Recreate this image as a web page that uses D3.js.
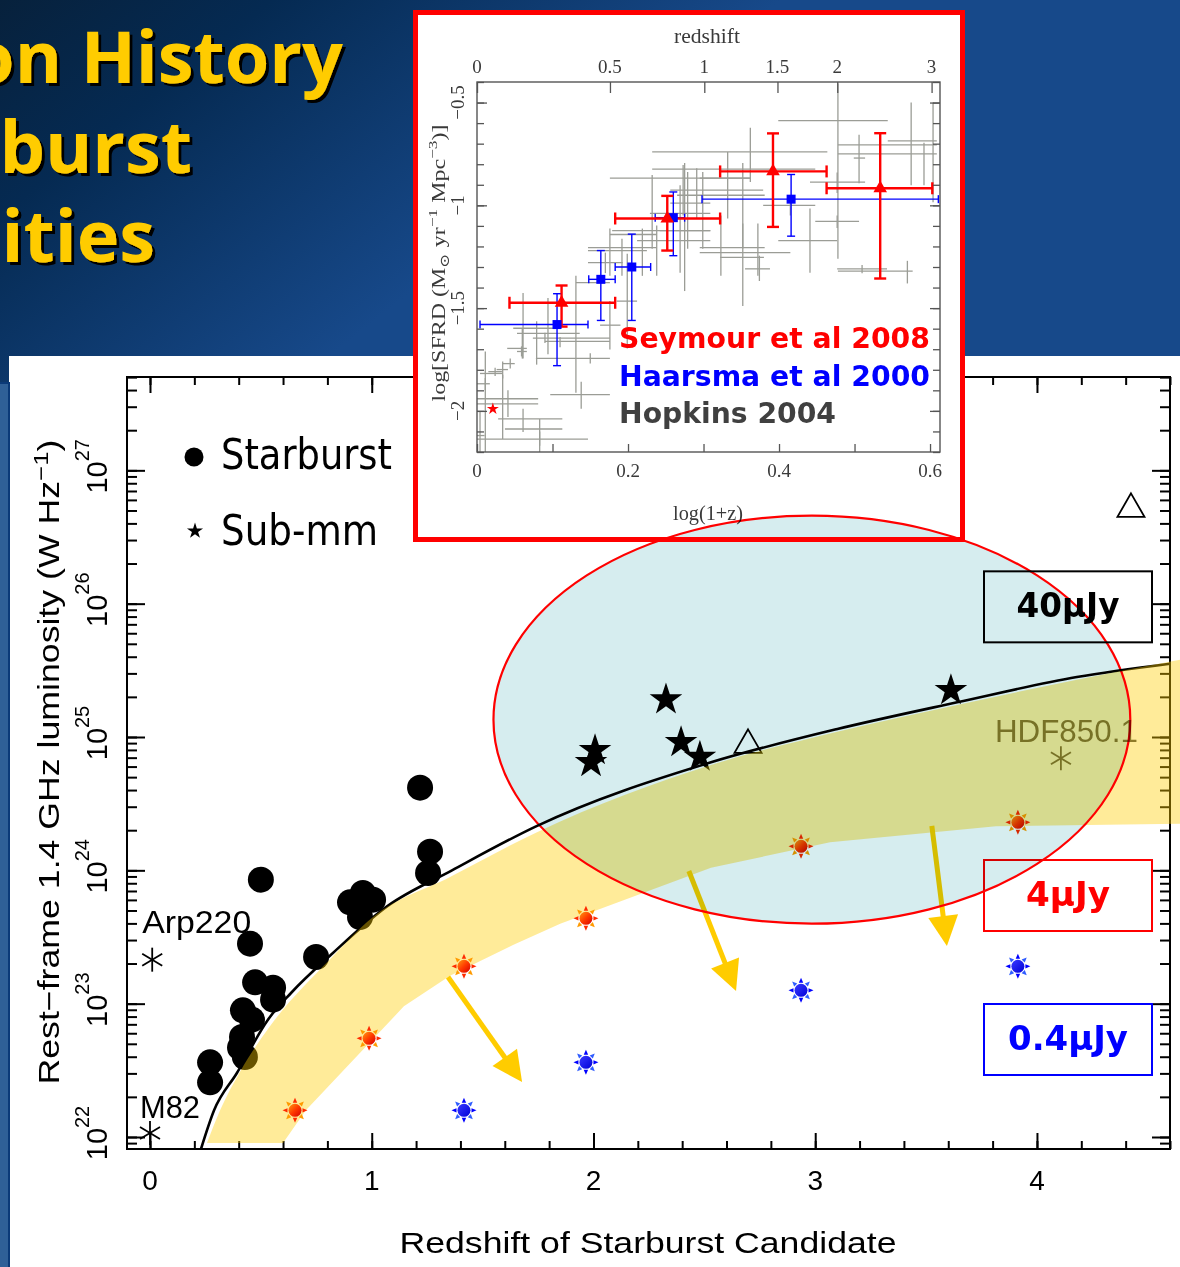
<!DOCTYPE html>
<html>
  <head>
    <meta charset="utf-8">
    <style>
      html, body {
        padding: 0;
        margin: 0;
        overflow: hidden;
        background: #0d3a78;
      }
      svg { display: block; }
      .helv { font-family: "Liberation Sans", Arial, sans-serif; }
      .serif { font-family: "Liberation Serif", "DejaVu Serif", serif; }
    </style>
  </head>
  <body>
    <div id="chart"></div>
    <script src="https://cdnjs.cloudflare.com/ajax/libs/d3/7.8.5/d3.min.js"></script>
    <script>
      (() => {
        const W = 1180
        const H = 1267

        // ---- main plot: redshift z and log10 L(1.4 GHz) [W/Hz] ----
        const starburstZ = [1.218, 1.263, 1.254, 0.50, 0.96, 0.902, 1.006, 0.947, 0.451, 0.749, 0.474, 0.555, 0.555, 0.419, 0.46, 0.415, 0.428, 0.406, 0.271, 0.271]
        const starburstL = [24.62, 24.14, 23.98, 23.93, 23.83, 23.76, 23.78, 23.65, 23.45, 23.35, 23.16, 23.12, 23.03, 22.95, 22.88, 22.75, 22.60, 22.67, 22.56, 22.41]
        const submmZ = [2.327, 2.007, 1.989, 2.395, 2.48, 3.612]
        const submmL = [25.28, 24.90, 24.81, 24.96, 24.85, 25.35]
        const triZ = [2.697, 4.424]
        const triL = [24.94, 26.71]
        const namedNames = ['Arp220', 'M82', 'HDF850.1']
        const namedZ = [0.01, 0.0, 4.108]
        const namedL = [23.33, 22.03, 24.84]

        // 40 uJy limit curve
        const curveZ = [0.23, 0.289, 0.392, 0.532, 0.636, 0.825, 1.069, 1.362, 1.741, 2.53, 3.10, 3.64, 4.18, 4.6]
        const curveL = [21.91, 22.20, 22.48, 22.88, 23.08, 23.38, 23.73, 24.00, 24.33, 24.81, 25.06, 25.26, 25.45, 25.55]

        // yellow band
        const bandUpZ = [0.257, 0.316, 0.406, 0.541, 0.81, 1.006, 1.353, 1.75, 2.53, 3.10, 3.64, 4.18, 4.65]
        const bandUpL = [21.955, 22.20, 22.49, 22.83, 23.33, 23.65, 23.95, 24.29, 24.79, 25.04, 25.24, 25.43, 25.58]
        const bandLoZ = [0.60, 0.703, 1.145, 1.353, 1.637, 1.85, 2.53, 3.067, 3.815, 4.65]
        const bandLoL = [21.955, 22.20, 22.98, 23.21, 23.44, 23.60, 24.02, 24.21, 24.33, 24.35]

        // 4 uJy and 0.4 uJy limits
        const sun4Z = [0.654, 0.988, 1.416, 1.966, 2.936, 3.914]
        const sun4L = [22.20, 22.74, 23.28, 23.64, 24.18, 24.36]
        const sun04Z = [1.416, 1.966, 2.936, 3.914]
        const sun04L = [22.20, 22.56, 23.10, 23.28]

        // arrows [z, logL] start -> tip
        const arrowFrom = [[1.344, 23.20], [2.43, 23.995], [3.526, 24.333]]
        const arrowTo = [[1.678, 22.413], [2.643, 23.095], [3.594, 23.433]]

        const fluxLabels = ['40\u03bcJy', '4\u03bcJy', '0.4\u03bcJy']
        const fluxColors = ['#000000', '#ff0000', '#0000ff']
        const fluxL = [25.98, 23.815, 22.735]

        const xTickLabels = [0, 1, 2, 3, 4]
        const yDecades = [22, 23, 24, 25, 26, 27]

        // ---- inset: log(1+z), log SFRD ----
        // rows: [x, xlo, xhi, y, ylo, yhi]
        const seymour = [
          [0.112, 0.043, 0.183, -1.474, -1.59, -1.39],
          [0.252, 0.183, 0.322, -1.064, -1.22, -0.954],
          [0.392, 0.322, 0.463, -0.835, -1.105, -0.65],
          [0.534, 0.463, 0.603, -0.917, -1.356, -0.649]
        ]
        const seymourStar = [0.021, -1.99]
        const haarsma = [
          [0.106, 0.004, 0.147, -1.58, -1.78, -1.43],
          [0.164, 0.148, 0.183, -1.36, -1.56, -1.22],
          [0.205, 0.183, 0.23, -1.30, -1.56, -1.14],
          [0.26, 0.236, 0.275, -1.06, -1.245, -0.935],
          [0.416, 0.298, 0.611, -0.97, -1.15, -0.85]
        ]
        const hopkins = [
          [0.478, 0.399, 0.544, -0.588, -1.26, -0.407],
          [0.575, 0.544, 0.609, -0.686, -0.902, -0.5],
          [0.592, 0.478, 0.609, -0.75, -0.902, -0.696],
          [0.604, 0.478, 0.609, -0.706, -0.985, -0.5],
          [0.506, 0.499, 0.514, -0.77, -0.892, -0.657],
          [0.477, 0.441, 0.514, -0.887, -0.94, -0.84],
          [0.362, 0.232, 0.464, -0.74, -0.887, -0.623],
          [0.332, 0.232, 0.448, -0.824, -1.064, -0.74],
          [0.273, 0.176, 0.362, -0.868, -1.049, -0.804],
          [0.291, 0.256, 0.379, -0.926, -1.064, -0.819],
          [0.279, 0.265, 0.381, -0.951, -1.211, -0.838],
          [0.299, 0.256, 0.309, -0.989, -1.211, -0.838],
          [0.269, 0.229, 0.309, -1.039, -1.328, -0.902],
          [0.232, 0.179, 0.309, -1.123, -1.211, -0.853],
          [0.219, 0.176, 0.238, -1.142, -1.343, -1.113],
          [0.238, 0.212, 0.309, -1.172, -1.343, -1.098],
          [0.192, 0.147, 0.238, -1.206, -1.343, -1.162],
          [0.176, 0.147, 0.225, -1.22, -1.343, -1.113],
          [0.17, 0.147, 0.193, -1.279, -1.33, -1.23],
          [0.323, 0.295, 0.381, -1.206, -1.343, -1.049],
          [0.372, 0.295, 0.415, -1.23, -1.343, -1.088],
          [0.352, 0.295, 0.362, -0.868, -1.21, -0.794],
          [0.415, 0.379, 0.448, -1.0, -1.05, -0.95],
          [0.441, 0.399, 0.477, -1.172, -1.328, -1.015],
          [0.477, 0.448, 0.506, -1.078, -1.11, -1.05],
          [0.57, 0.478, 0.577, -1.32, -1.38, -1.27],
          [0.51, 0.477, 0.543, -1.309, -1.33, -1.29],
          [0.352, 0.322, 0.38, -1.253, -1.49, -1.088],
          [0.374, 0.355, 0.388, -1.309, -1.368, -1.245],
          [0.275, 0.242, 0.309, -1.123, -1.417, -0.794],
          [0.199, 0.185, 0.212, -1.466, -1.696, -1.235],
          [0.131, 0.131, 0.176, -1.376, -1.912, -1.343],
          [0.094, 0.077, 0.176, -1.475, -1.725, -1.451],
          [0.061, 0.048, 0.11, -1.598, -1.745, -1.426],
          [0.079, 0.053, 0.136, -1.623, -1.775, -1.564],
          [0.09, 0.074, 0.176, -1.646, -1.67, -1.62],
          [0.11, 0.09, 0.176, -1.662, -1.69, -1.64],
          [0.06, 0.04, 0.066, -1.696, -1.745, -1.598],
          [0.059, 0.053, 0.066, -1.711, -1.735, -1.686],
          [0.044, 0.034, 0.05, -1.77, -1.794, -1.745],
          [0.034, 0.026, 0.041, -1.799, -1.843, -1.76],
          [0.024, 0.015, 0.033, -1.809, -1.83, -1.79],
          [0.011, 0.004, 0.034, -1.818, -2.2, -1.711],
          [0.011, 0.0, 0.017, -1.868, -1.9, -1.84],
          [0.034, 0.0, 0.081, -1.941, -2.137, -1.824],
          [0.041, 0.0, 0.081, -1.966, -2.03, -1.9],
          [0.061, 0.028, 0.113, -2.039, -2.103, -1.99],
          [0.083, 0.037, 0.113, -2.088, -2.2, -2.039],
          [0.083, 0.0, 0.147, -2.137, -2.17, -2.1],
          [0.138, 0.097, 0.176, -1.921, -1.99, -1.858],
          [0.15, 0.078, 0.176, -1.745, -1.77, -1.72],
          [0.176, 0.163, 0.19, -1.583, -1.701, -1.466],
          [0.004, 0.0, 0.01, -2.12, -2.2, -2.0]
        ]
        const insetBottomTicks = [0, 0.2, 0.4, 0.6]
        const insetTopZ = [0, 0.5, 1, 1.5, 2, 3]
        const insetTopLabels = ['0', '0.5', '1', '1.5', '2', '3']
        const insetYTicks = [-0.5, -1, -1.5, -2]
        const insetLegend = ['Seymour et al 2008', 'Haarsma et al 2000', 'Hopkins 2004']
        const insetLegendColors = ['#ff0000', '#0000ff', '#404040']

        const titleLines = ['on History', 'burst', 'ities']

        // ------------------------------------------------------------
        let svg = d3.select('#chart').append('svg')
          .attr('width', W)
          .attr('height', H)

        let defs = svg.append('defs')

        let bg = defs.append('linearGradient').attr('id', 'bg')
          .attr('gradientUnits', 'userSpaceOnUse')
          .attr('x1', 0).attr('y1', 0).attr('x2', 300).attr('y2', 380)
        bg.append('stop').attr('offset', 0).attr('stop-color', '#07213c')
        bg.append('stop').attr('offset', 0.35).attr('stop-color', '#052a52')
        bg.append('stop').attr('offset', 1).attr('stop-color', '#17498a')

        defs.append('filter').attr('id', 'shadow')
          .attr('x', '-5%').attr('y', '-10%').attr('width', '115%').attr('height', '130%')
          .append('feDropShadow')
          .attr('dx', 3).attr('dy', 3).attr('stdDeviation', 0.6)
          .attr('flood-color', '#000').attr('flood-opacity', 1)

        let sunRed = defs.append('linearGradient').attr('id', 'sunRed')
          .attr('x1', 0).attr('y1', 0).attr('x2', 1).attr('y2', 1)
        sunRed.append('stop').attr('offset', 0).attr('stop-color', '#ff9a10')
        sunRed.append('stop').attr('offset', 0.5).attr('stop-color', '#ff3a00')
        sunRed.append('stop').attr('offset', 1).attr('stop-color', '#d40000')
        let sunBlue = defs.append('linearGradient').attr('id', 'sunBlue')
          .attr('x1', 0).attr('y1', 0).attr('x2', 1).attr('y2', 1)
        sunBlue.append('stop').attr('offset', 0).attr('stop-color', '#3a3aff')
        sunBlue.append('stop').attr('offset', 1).attr('stop-color', '#0000d8')

        defs.append('clipPath').attr('id', 'insetClip')
          .append('rect').attr('x', 477).attr('y', 82).attr('width', 463).attr('height', 370)

        // slide background + title
        svg.append('rect').attr('width', W).attr('height', H).attr('fill', 'url(#bg)')

        let titleRight = [343, 192, 155]
        let titleBase = [83, 173, 262]
        titleLines.forEach((t, i) => {
          svg.append('text')
            .attr('x', titleRight[i]).attr('y', titleBase[i])
            .attr('text-anchor', 'end')
            .attr('font-family', '"Open Sans", "Noto Sans", sans-serif')
            .attr('font-weight', 700)
            .attr('font-size', 72)
            .attr('fill', '#ffcc00')
            .attr('filter', 'url(#shadow)')
            .text(t)
        })

        // white panel and left strip
        svg.append('rect').attr('x', 9).attr('y', 356).attr('width', W - 9).attr('height', H - 356).attr('fill', '#fff')
        svg.append('rect').attr('x', 0).attr('y', 383).attr('width', 8).attr('height', H - 383).attr('fill', '#2f6097')
        svg.append('path').attr('d', `M0,383H9V${H}`).attr('fill', 'none').attr('stroke', '#0b3a78').attr('stroke-width', 2)

        // ---- main plot ----
        let x = d3.scaleLinear().domain([-0.1037, 4.6]).range([127, 1170])
        let y = d3.scaleLog().domain([10 ** 21.91, 10 ** 27.7]).range([1149, 377])
        let L = v => y(10 ** v)
        let [x0, x1] = x.range()
        let [yb, yt] = y.range()

        let g = svg.append('g')

        let minorZ = d3.range(0, 24).map(i => +(i * 0.2).toFixed(1))
        let majorZ = minorZ.filter(v => Number.isInteger(v))
        let logTicks = y.ticks()
        let majorLog = logTicks.filter(t => Math.abs(Math.log10(t) - Math.round(Math.log10(t))) < 1e-6)

        function tickAxis(axis, tr, vals, size) {
          let a = g.append('g').attr('transform', tr)
            .call(axis.tickValues(vals).tickSize(size).tickSizeOuter(0).tickFormat(''))
          a.select('.domain').remove()
          a.selectAll('line').attr('stroke', '#000').attr('stroke-width', 2)
        }
        tickAxis(d3.axisBottom(x), `translate(0,${yb})`, minorZ, -8)
        tickAxis(d3.axisBottom(x), `translate(0,${yb})`, majorZ, -16)
        tickAxis(d3.axisTop(x), `translate(0,${yt})`, minorZ, -8)
        tickAxis(d3.axisTop(x), `translate(0,${yt})`, majorZ, -16)
        tickAxis(d3.axisLeft(y), `translate(${x0},0)`, logTicks, -10)
        tickAxis(d3.axisLeft(y), `translate(${x0},0)`, majorLog, -18)
        tickAxis(d3.axisRight(y), `translate(${x1},0)`, logTicks, -10)
        tickAxis(d3.axisRight(y), `translate(${x1},0)`, majorLog, -18)

        g.append('rect')
          .attr('x', x0).attr('y', yt).attr('width', x1 - x0).attr('height', yb - yt)
          .attr('fill', 'none').attr('stroke', '#000').attr('stroke-width', 2)

        g.selectAll('.xlab').data(xTickLabels).enter().append('text')
          .attr('class', 'helv')
          .attr('x', d => x(d)).attr('y', 1190)
          .attr('text-anchor', 'middle').attr('font-size', 28)
          .text(d => d)

        yDecades.forEach(d => {
          let t = g.append('text').attr('class', 'helv')
            .attr('transform', `translate(107,${L(d) - 4}) rotate(-90)`)
            .attr('text-anchor', 'middle').attr('font-size', 29)
          t.append('tspan').text('10')
          t.append('tspan').attr('dy', -18).attr('font-size', 20).text(d)
        })

        g.append('text').attr('class', 'helv')
          .attr('x', 648).attr('y', 1253)
          .attr('text-anchor', 'middle').attr('font-size', 29)
          .attr('textLength', 497).attr('lengthAdjust', 'spacingAndGlyphs')
          .text('Redshift of Starburst Candidate')

        let yl = g.append('text').attr('class', 'helv')
          .attr('transform', 'translate(59,762) rotate(-90)')
          .attr('text-anchor', 'middle').attr('font-size', 29)
          .attr('textLength', 645).attr('lengthAdjust', 'spacingAndGlyphs')
        yl.append('tspan').text('Rest\u2212frame 1.4 GHz luminosity (W Hz')
        yl.append('tspan').attr('dy', -11).attr('font-size', 21).text('\u22121')
        yl.append('tspan').attr('dy', 11).text(')')

        // starburst dots
        g.selectAll('.dot').data(d3.zip(starburstZ, starburstL)).enter().append('circle')
          .attr('cx', d => x(d[0])).attr('cy', d => L(d[1])).attr('r', 13).attr('fill', '#000')

        // limit curve
        let line = d3.line().x(d => x(d[0])).y(d => L(d[1]))
        g.append('path')
          .attr('d', line.curve(d3.curveMonotoneX)(d3.zip(curveZ, curveL)))
          .attr('fill', 'none').attr('stroke', '#000').attr('stroke-width', 2.6)

        // sub-mm stars
        let star = d3.symbol().type(d3.symbolStar)
        g.selectAll('.smm').data(d3.zip(submmZ, submmL)).enter().append('path')
          .attr('transform', d => `translate(${x(d[0])},${L(d[1])})`)
          .attr('d', star.size(330)()).attr('fill', '#000')

        // open triangles
        g.selectAll('.tri').data(d3.zip(triZ, triL)).enter().append('path')
          .attr('transform', d => `translate(${x(d[0])},${L(d[1])})`)
          .attr('d', d3.symbol().type(d3.symbolTriangle).size(316)())
          .attr('fill', 'none').attr('stroke', '#000').attr('stroke-width', 1.8)

        // named sources: asterisk + label
        let labOff = { 'Arp220': [-10, -27], 'M82': [-10, -15], 'HDF850.1': [-66, -16] }
        let labLen = { 'Arp220': 109, 'M82': 60, 'HDF850.1': 143 }
        namedNames.forEach((n, i) => {
          let cx = x(namedZ[i]), cy = L(namedL[i])
          let col = n === 'HDF850.1' ? '#444' : '#000'
          let a = g.append('g').attr('transform', `translate(${cx},${cy})`)
            .attr('stroke', col).attr('stroke-width', 1.8)
          a.append('line').attr('y1', -12).attr('y2', 12)
          a.append('line').attr('x1', -10).attr('y1', -6).attr('x2', 10).attr('y2', 6)
          a.append('line').attr('x1', -10).attr('y1', 6).attr('x2', 10).attr('y2', -6)
          g.append('text').attr('class', 'helv')
            .attr('x', cx + labOff[n][0]).attr('y', cy + labOff[n][1])
            .attr('font-size', 31).attr('fill', col)
            .attr('textLength', labLen[n]).attr('lengthAdjust', 'spacingAndGlyphs')
            .text(n)
        })

        // yellow band
        let upPts = d3.zip(bandUpZ, bandUpL)
        let loPts = d3.zip(bandLoZ, bandLoL).reverse()
        let up = d3.line().x(d => x(d[0])).y(d => L(d[1])).curve(d3.curveMonotoneX)(upPts)
        let lo = d3.line().x(d => x(d[0])).y(d => L(d[1]))(loPts)
        g.append('path')
          .attr('d', up + 'L' + lo.slice(1) + 'Z')
          .attr('fill', '#ffcc00').attr('fill-opacity', 0.4)

        // flux-limit markers
        function sun(cx, cy, fill, rayA, rayB) {
          let s = g.append('g').attr('transform', `translate(${cx},${cy})`)
          d3.range(8).forEach(i => {
            let a = i * Math.PI / 4 - Math.PI / 2
            let c = Math.cos(a), sn = Math.sin(a)
            let p = [[7.5 * c - 2.2 * sn, 7.5 * sn + 2.2 * c], [12.5 * c, 12.5 * sn], [7.5 * c + 2.2 * sn, 7.5 * sn - 2.2 * c]]
            s.append('path').attr('d', 'M' + p.join('L') + 'Z').attr('fill', i % 2 ? rayB : rayA)
          })
          s.append('circle').attr('r', 6.5).attr('fill', fill)
        }
        d3.zip(sun4Z, sun4L).forEach(d => sun(x(d[0]), L(d[1]), 'url(#sunRed)', '#ff2a00', '#ff9a00'))
        d3.zip(sun04Z, sun04L).forEach(d => sun(x(d[0]), L(d[1]), 'url(#sunBlue)', '#0000ff', '#2f5cff'))

        // arrows
        arrowFrom.forEach((f, i) => {
          let ax = x(f[0]), ay = L(f[1])
          let bx = x(arrowTo[i][0]), by = L(arrowTo[i][1])
          let len = Math.hypot(bx - ax, by - ay)
          let ux = (bx - ax) / len, uy = (by - ay) / len
          let hl = 30, hw = 15
          let mx = bx - ux * hl, my = by - uy * hl
          g.append('line').attr('x1', ax).attr('y1', ay).attr('x2', mx + ux * 2).attr('y2', my + uy * 2)
            .attr('stroke', '#ffcc00').attr('stroke-width', 5)
          g.append('path')
            .attr('d', `M${bx},${by}L${mx - uy * hw},${my + ux * hw}L${mx + uy * hw},${my - ux * hw}Z`)
            .attr('fill', '#ffcc00')
        })

        // flux boxes
        let boxLen = [103, 84, 120]
        fluxLabels.forEach((t, i) => {
          let cy = L(fluxL[i])
          g.append('rect').attr('x', 984).attr('y', cy - 35).attr('width', 168).attr('height', 71)
            .attr('fill', 'none').attr('stroke', fluxColors[i]).attr('stroke-width', 2)
          g.append('text')
            .attr('x', 1068).attr('y', cy + 11)
            .attr('text-anchor', 'middle')
            .attr('font-family', '"DejaVu Sans", sans-serif').attr('font-weight', 700)
            .attr('font-size', 33).attr('fill', fluxColors[i])
            .attr('textLength', boxLen[i]).attr('lengthAdjust', 'spacingAndGlyphs')
            .text(t)
        })

        // legend
        g.append('circle').attr('cx', 194).attr('cy', 457).attr('r', 9.5).attr('fill', '#000')
        g.append('path').attr('transform', 'translate(195,531)').attr('d', star.size(80)()).attr('fill', '#000')
        ;[['Starburst', 469, 171], ['Sub-mm', 545, 157]].forEach(([t, by, tl]) => {
          g.append('text').attr('x', 221).attr('y', by)
            .attr('font-family', '"DejaVu Sans Condensed", "DejaVu Sans", sans-serif')
            .attr('font-size', 42).attr('fill', '#000')
            .attr('textLength', tl).attr('lengthAdjust', 'spacingAndGlyphs')
            .text(t)
        })

        // ---- inset ----
        let xi = d3.scaleLinear().domain([0, 0.6132]).range([477, 940])
        let yi = d3.scaleLinear().domain([-2.2, -0.4]).range([452, 82])
        let gi = svg.append('g')
        gi.append('rect').attr('x', 415).attr('y', 12).attr('width', 548).attr('height', 528).attr('fill', '#fff')

        let gc = gi.append('g').attr('clip-path', 'url(#insetClip)')
        function crosses(rows, color, width, cap) {
          let s = gc.append('g').attr('stroke', color).attr('stroke-width', width)
          rows.forEach(r => {
            let [vx, xlo, xhi, vy, ylo, yhi] = r
            s.append('line').attr('x1', xi(xlo)).attr('x2', xi(xhi)).attr('y1', yi(vy)).attr('y2', yi(vy))
            s.append('line').attr('x1', xi(vx)).attr('x2', xi(vx)).attr('y1', yi(ylo)).attr('y2', yi(yhi))
            if (cap) {
              ;[xlo, xhi].forEach(v => s.append('line').attr('x1', xi(v)).attr('x2', xi(v)).attr('y1', yi(vy) - cap).attr('y2', yi(vy) + cap))
              ;[ylo, yhi].forEach(v => s.append('line').attr('y1', yi(v)).attr('y2', yi(v)).attr('x1', xi(vx) - cap).attr('x2', xi(vx) + cap))
            }
          })
        }
        crosses(hopkins, '#9b9d96', 1.3, 0)
        crosses(haarsma, '#0000ff', 1.4, 4)
        crosses(seymour, '#ff0000', 2.4, 6)
        gc.selectAll('.hsq').data(haarsma).enter().append('path')
          .attr('transform', d => `translate(${xi(d[0])},${yi(d[3])})`)
          .attr('d', d3.symbol().type(d3.symbolSquare).size(81)()).attr('fill', '#0000ff')
        gc.selectAll('.str').data(seymour).enter().append('path')
          .attr('transform', d => `translate(${xi(d[0])},${yi(d[3])})`)
          .attr('d', d3.symbol().type(d3.symbolTriangle).size(80)()).attr('fill', '#ff0000')
        gc.append('path')
          .attr('transform', `translate(${xi(seymourStar[0])},${yi(seymourStar[1])})`)
          .attr('d', star.size(45)()).attr('fill', '#ff0000')

        // inset frame and ticks
        let ic = '#555'
        function insetTicks(axis, tr, vals, size) {
          let a = gi.append('g').attr('transform', tr)
            .call(axis.tickValues(vals).tickSize(size).tickSizeOuter(0).tickFormat(''))
          a.select('.domain').remove()
          a.selectAll('line').attr('stroke', ic).attr('stroke-width', 1.3)
        }
        let ySteps = d3.range(-22, -3).map(v => v / 10)
        insetTicks(d3.axisBottom(xi), 'translate(0,452)', d3.range(0, 7).map(v => v / 10), -8)
        insetTicks(d3.axisTop(xi), 'translate(0,82)', insetTopZ.map(z => Math.log10(1 + z)), -11)
        insetTicks(d3.axisLeft(yi), 'translate(477,0)', ySteps, -7)
        insetTicks(d3.axisLeft(yi), 'translate(477,0)', insetYTicks, -10)
        insetTicks(d3.axisRight(yi), 'translate(940,0)', ySteps, -7)
        insetTicks(d3.axisRight(yi), 'translate(940,0)', insetYTicks, -10)
        gi.append('rect').attr('x', 477).attr('y', 82).attr('width', 463).attr('height', 370)
          .attr('fill', 'none').attr('stroke', ic).attr('stroke-width', 1.4)

        let it = '#3a3a3a'
        gi.selectAll('.ibx').data(insetBottomTicks).enter().append('text')
          .attr('class', 'serif').attr('x', d => xi(d)).attr('y', 477)
          .attr('text-anchor', 'middle').attr('font-size', 19).attr('fill', it)
          .text(d => d)
        gi.selectAll('.itx').data(insetTopZ).enter().append('text')
          .attr('class', 'serif').attr('x', d => xi(Math.log10(1 + d))).attr('y', 73)
          .attr('text-anchor', 'middle').attr('font-size', 19).attr('fill', it)
          .text((d, i) => insetTopLabels[i])
        gi.selectAll('.iyl').data(insetYTicks).enter().append('text')
          .attr('class', 'serif')
          .attr('transform', d => `translate(464,${yi(d)}) rotate(-90)`)
          .attr('text-anchor', 'middle').attr('font-size', 19).attr('fill', it)
          .text(d => String(d).replace('-', '\u2212'))
        gi.append('text').attr('class', 'serif').attr('x', 707).attr('y', 43)
          .attr('text-anchor', 'middle').attr('font-size', 20).attr('fill', it)
          .attr('textLength', 66).attr('lengthAdjust', 'spacingAndGlyphs')
          .text('redshift')
        gi.append('text').attr('class', 'serif').attr('x', 708).attr('y', 520)
          .attr('text-anchor', 'middle').attr('font-size', 20).attr('fill', it)
          .attr('textLength', 70).attr('lengthAdjust', 'spacingAndGlyphs')
          .text('log(1+z)')
        let iy = gi.append('text').attr('class', 'serif')
          .attr('transform', 'translate(445,263) rotate(-90)')
          .attr('text-anchor', 'middle').attr('font-size', 18).attr('fill', it)
          .attr('textLength', 277).attr('lengthAdjust', 'spacingAndGlyphs')
        iy.append('tspan').text('log[SFRD  (M')
        iy.append('tspan').attr('dy', 4).attr('font-size', 13).text('\u2299')
        iy.append('tspan').attr('dy', -4).text('  yr')
        iy.append('tspan').attr('dy', -8).attr('font-size', 13).text('\u22121')
        iy.append('tspan').attr('dy', 8).text('  Mpc')
        iy.append('tspan').attr('dy', -8).attr('font-size', 13).text('\u22123')
        iy.append('tspan').attr('dy', 8).text(')]')

        let legLen = [311, 311, 217]
        insetLegend.forEach((t, i) => {
          gi.append('text').attr('x', 619).attr('y', [348, 386, 423][i])
            .attr('font-family', '"DejaVu Sans", sans-serif').attr('font-weight', 700)
            .attr('font-size', 28).attr('fill', insetLegendColors[i])
            .attr('textLength', legLen[i]).attr('lengthAdjust', 'spacingAndGlyphs')
            .text(t)
        })

        // ---- highlight ellipse (multiply over everything) ----
        let eZ = 2.985, eL = 25.13, eHalfZ = 1.436, eHalfDex = 1.53
        svg.append('ellipse')
          .attr('cx', x(eZ)).attr('cy', L(eL))
          .attr('rx', x(eZ + eHalfZ) - x(eZ)).attr('ry', L(eL - eHalfDex) - L(eL))
          .attr('fill', '#d6edef')
          .attr('stroke', '#ff0000').attr('stroke-width', 2.2)
          .style('mix-blend-mode', 'multiply')

        // inset red border
        svg.append('rect').attr('x', 415.5).attr('y', 12.5).attr('width', 547).attr('height', 527)
          .attr('fill', 'none').attr('stroke', '#ff0000').attr('stroke-width', 5)
      })();
    </script>
  </body>
</html>
